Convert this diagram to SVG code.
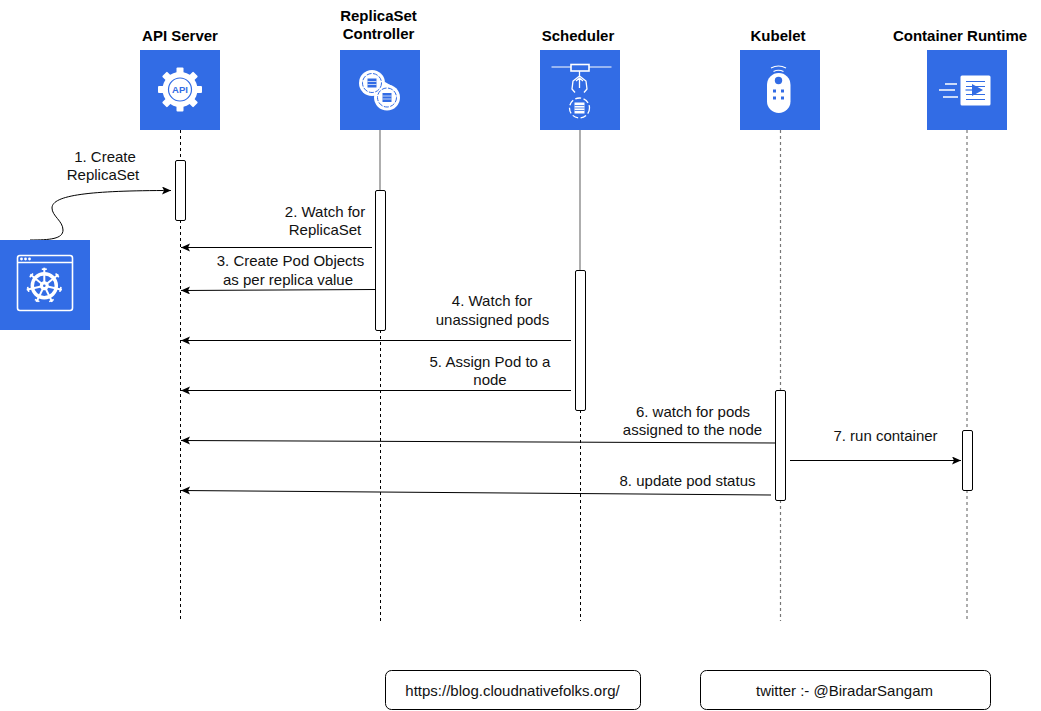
<svg xmlns="http://www.w3.org/2000/svg" width="1041" height="711" viewBox="0 0 1041 711">
<style>
text{font-family:"Liberation Sans",Arial,sans-serif;font-size:15px;fill:#111;text-anchor:middle}
.h{font-weight:bold;font-size:15px;fill:#000}
.tile{fill:#326ce5}
.ws{fill:none;stroke:#fff;stroke-width:1.6}
.wf{fill:#fff}
.bs{fill:none;stroke:#326ce5;stroke-width:1.2}
.bf{fill:#326ce5}
.ll{fill:none;stroke:#000;stroke-width:1;stroke-dasharray:3 3}
.llg{fill:none;stroke:#777;stroke-width:1.2;stroke-dasharray:3 3}
.sl{fill:none;stroke:#777;stroke-width:1.2}
.act{fill:#fff;stroke:#000;stroke-width:1}
.c{fill:none;stroke:#000;stroke-width:1;marker-end:url(#a)}
.b{fill:#fff;stroke:#000;stroke-width:1}
</style>
<defs>
<marker id="a" markerUnits="userSpaceOnUse" markerWidth="10" markerHeight="10" refX="9" refY="4" orient="auto"><path d="M0 0L9 4L0 8L2 4Z" fill="#000"/></marker>
<g id="spoke"><path d="M0 0V-18" stroke="#fff" stroke-width="2" fill="none"/><path d="M-2.500 -16.500H2.500" stroke="#fff" stroke-width="1.600" fill="none"/></g>
</defs>
<g id="lifelines">
<path class="ll" d="M180.500 130V621"/>
<path class="sl" d="M380 130V190"/><path class="ll" d="M380.500 330V621"/>
<path class="sl" d="M580 130V270"/><path class="ll" d="M580.500 410V621"/>
<path class="llg" d="M780.500 130V390M780.500 500V621"/>
<path class="llg" d="M967 130V430M967 490V621"/>
</g>
<g id="activations">
<rect class="act" x="175.500" y="160.500" width="10" height="60" rx="1.500"/>
<rect class="act" x="375.500" y="190.500" width="10" height="140" rx="1.500"/>
<rect class="act" x="575.500" y="270.500" width="10" height="140" rx="1.500"/>
<rect class="act" x="775.500" y="390.500" width="10" height="110" rx="1.500"/>
<rect class="act" x="962.500" y="430.500" width="10" height="60" rx="1.500"/>
</g>
<g id="connectors">
<path class="c" d="M30 240C50 240 63 239 63 230C63 221 52 216 52 208C52 195 90 190.500 171 190.500"/>
<path class="c" d="M372 247.500H181"/>
<path class="c" d="M375 289.500L181 290.500"/>
<path class="c" d="M571 340.500H181"/>
<path class="c" d="M571 390.500H181"/>
<path class="c" d="M776 443L181 440.500"/>
<path class="c" d="M790 460.500H961"/>
<path class="c" d="M771 495L181 490.500"/>
</g>
<g id="api-server">
<text class="h" x="180" y="41">API Server</text>
<rect class="tile" x="140" y="50" width="80" height="80"/>
<g transform="translate(180 89.500)">
<circle r="17.500" class="wf"/>
<g class="wf"><rect x="-3.500" y="-22" width="7" height="8" rx="1"/><rect x="-3.500" y="14" width="7" height="8" rx="1"/><rect x="-22" y="-3.500" width="8" height="7" rx="1"/><rect x="14" y="-3.500" width="8" height="7" rx="1"/>
<rect x="-3.500" y="-22" width="7" height="8" rx="1" transform="rotate(45)"/><rect x="-3.500" y="14" width="7" height="8" rx="1" transform="rotate(45)"/><rect x="-22" y="-3.500" width="8" height="7" rx="1" transform="rotate(45)"/><rect x="14" y="-3.500" width="8" height="7" rx="1" transform="rotate(45)"/></g>
<circle r="11.500" class="bs"/>
<text y="3.500" style="font-size:9.500px;font-weight:bold;fill:#326ce5">API</text>
</g>
</g>
<g id="replicaset-controller">
<text class="h" x="378.500" y="21">ReplicaSet</text><text class="h" x="378.500" y="39">Controller</text>
<rect class="tile" x="340" y="50" width="80" height="80"/>
<g class="wf"><circle cx="372" cy="83" r="13"/><circle cx="387" cy="97.500" r="13"/><path d="M376 91L385 82L392 86L382 96Z"/></g>
<g fill="none" stroke="#326ce5" stroke-width="1" stroke-dasharray="5 1.500"><circle cx="372" cy="83" r="9.500"/><circle cx="387" cy="97.500" r="9.500"/></g>
<g class="bf"><rect x="367.500" y="78.500" width="9" height="9"/><rect x="382.500" y="93" width="9" height="9"/></g>
<path d="M367.500 81.500H376.500M367.500 84.500H376.500M382.500 96H391.500M382.500 99H391.500" stroke="#fff" stroke-width=".7"/>
</g>
<g id="scheduler">
<text class="h" x="578" y="41">Scheduler</text>
<rect class="tile" x="540" y="50" width="80" height="80"/>
<path class="ws" style="stroke-width:1" d="M551.500 67H571M589 67H611.500"/>
<rect class="ws" x="571" y="64.500" width="18" height="6.500"/>
<path class="ws" style="stroke-width:1.300" d="M579.500 71V76M579.500 76L573 81L572 89L575 92.500M579.500 76L586 81L587 89L584 92.500M576 81L579.500 78L583 81M579.500 78V88"/>
<circle cx="579.500" cy="108" r="10" fill="none" stroke="#fff" stroke-width="1.300" stroke-dasharray="6 2.500"/>
<rect class="wf" x="574.500" y="102.500" width="10" height="11"/>
<path d="M574.500 105.500H584.500M574.500 108H584.500M574.500 110.500H584.500" stroke="#326ce5" stroke-width=".8"/>
</g>
<g id="kubelet">
<text class="h" x="778" y="41">Kubelet</text>
<rect class="tile" x="740" y="50" width="80" height="80"/>
<rect class="wf" x="767" y="73" width="23.500" height="40" rx="11.700"/>
<path class="ws" style="stroke-width:1.200" d="M771 68Q778.500 64 786 68M773.500 71.500Q778.500 69 783.500 71.500"/>
<circle class="bf" cx="778.500" cy="80.500" r="3.700"/>
<g class="bf"><rect x="773" y="89.500" width="3" height="3"/><rect x="781" y="89.500" width="3" height="3"/><rect x="773" y="96.500" width="3" height="3"/><rect x="781" y="96.500" width="3" height="3"/></g>
</g>
<g id="container-runtime">
<text class="h" x="960" y="41">Container Runtime</text>
<rect class="tile" x="927" y="50" width="80" height="80"/>
<rect class="wf" x="960.500" y="75.500" width="30" height="30" rx="1.500"/>
<path d="M966 81.500H985M966 86.500H985M966 94.500H985M966 99.500H985" stroke="#326ce5" stroke-width="1"/>
<path class="bf" d="M972 84V96L983 90Z"/><path d="M965.500 90H973" stroke="#326ce5" stroke-width="1.200"/>
<path class="ws" d="M945 84H957M939 90H955M943 97H958"/>
</g>
<g id="kubectl">
<rect class="tile" x="0" y="240" width="90" height="90"/>
<rect class="ws" x="17.500" y="255.500" width="55" height="55" rx="2.500"/>
<path class="ws" d="M17.500 262.500H72.500"/>
<g class="wf"><circle cx="21.500" cy="259" r="1.400"/><circle cx="25.500" cy="259" r="1.400"/><circle cx="29.500" cy="259" r="1.400"/></g>
<g transform="translate(44.300 285.700)">
<circle r="12" fill="none" stroke="#fff" stroke-width="3.500"/>
<use href="#spoke"/><use href="#spoke" transform="rotate(51.430)"/><use href="#spoke" transform="rotate(102.860)"/><use href="#spoke" transform="rotate(154.290)"/><use href="#spoke" transform="rotate(205.710)"/><use href="#spoke" transform="rotate(257.140)"/><use href="#spoke" transform="rotate(308.570)"/>
<circle class="wf" r="4.500"/><circle class="bf" r="1.300"/>
</g>
</g>
<g id="labels">
<text x="105" y="162">1. Create</text><text x="103" y="179.500">ReplicaSet</text>
<text x="325" y="217">2. Watch for</text><text x="325" y="235">ReplicaSet</text>
<text x="290.500" y="266">3. Create Pod Objects</text><text x="288" y="285">as per replica value</text>
<text x="492" y="306">4. Watch for</text><text x="492.500" y="325">unassigned pods</text>
<text x="490" y="367">5. Assign Pod to a</text><text x="490" y="385">node</text>
<text x="693" y="417">6. watch for pods</text><text x="692.500" y="435">assigned to the node</text>
<text x="885.500" y="441">7. run container</text>
<text x="687.500" y="486">8. update pod status</text>
</g>
<g id="link-blog"><rect class="b" x="385.500" y="670.500" width="255" height="39" rx="6"/><text x="512.500" y="696">https://blog.cloudnativefolks.org/</text></g>
<g id="link-twitter"><rect class="b" x="700.500" y="670.500" width="290" height="39" rx="6"/><text x="844.500" y="696">twitter :- @BiradarSangam</text></g>
</svg>
